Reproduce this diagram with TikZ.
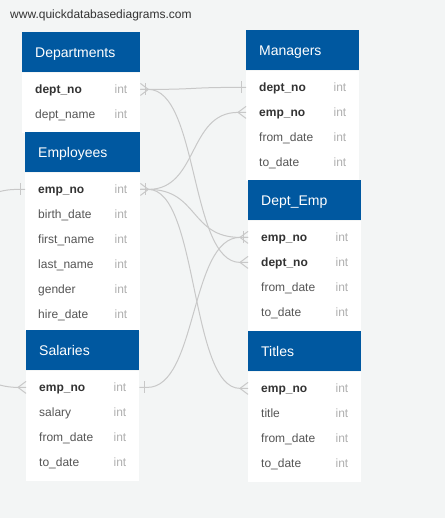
\documentclass[tikz,border=0pt]{standalone}
\usepackage{fontspec}
\setmainfont{Liberation Sans}
\usetikzlibrary{calc}

\definecolor{bg}{RGB}{243,245,245}
\definecolor{hdr}{RGB}{0,88,160}
\definecolor{pk}{RGB}{51,51,51}
\definecolor{fld}{RGB}{85,85,85}
\definecolor{typ}{RGB}{176,176,176}
\definecolor{wire}{RGB}{200,200,200}
\definecolor{urlc}{RGB}{51,51,51}

% table: id, left, top, width, body height, title
\newcommand{\ertable}[6]{%
  \node[hdrbox, minimum width=#4] (#1-head) at (#2,#3) {};
  \node[titletext] (#1-title) at ($(#1-head.west)+(13,5)$) {#6};
  \node[bodybox, minimum width=#4, minimum height=#5] (#1-body) at (#1-head.south west) {};
}
% row: table id, key, index, label, style
\newcommand{\errow}[5]{%
  \coordinate (#1-#2) at ($(#1-body.north west)+(0,{17+25*(#3-1)})$);
  \coordinate (#1-#2-r) at (#1-body.east |- #1-#2);
  \node[#5] (#1-#2-name) at ($(#1-#2)+(13,4)$) {#4};
  \node[typetext] (#1-#2-type) at ($(#1-#2-r)+(-26,4)$) {int};
}
% relationship line from a right-hand field end to a left-hand field end
\newcommand{\erlink}[2]{%
  \draw[wire] (#1) -- ++(8,0) .. controls +(50,0) and ($(#2)+(-58,0)$) .. ($(#2)+(-8,0)$) -- (#2);
}

\begin{document}
\begin{tikzpicture}[x=1pt,y=-1pt,
  wire/.style={draw=wire, line width=1pt},
  hdrbox/.style={fill=hdr, draw=none, anchor=north west, inner sep=0pt, minimum height=40pt},
  bodybox/.style={fill=white, draw=none, anchor=north west, inner sep=0pt},
  titletext/.style={anchor=base west, inner sep=0pt, text=white, font=\fontsize{14}{16}\selectfont},
  pkf/.style={anchor=base west, inner sep=0pt, text=pk, font=\fontsize{12}{14}\selectfont\bfseries},
  fld/.style={anchor=base west, inner sep=0pt, text=fld, font=\fontsize{12}{14}\selectfont},
  typetext/.style={anchor=base west, inner sep=0pt, text=typ, font=\fontsize{12}{14}\selectfont},
  urltext/.style={anchor=base west, inner sep=0pt, text=urlc, font=\fontsize{12}{14}\selectfont},
  crow/.pic={\draw[wire] (0,-6) -- (8,0) -- (0,6);},
  onebar/.pic={\draw[wire] (5,-6) -- (5,6);},
]
\clip (0,0) rectangle (445,518);
\fill[bg] (0,0) rectangle (445,518);

\node[urltext] (url) at (10,19) {www.quickdatabasediagrams.com};

% tables
\ertable{dept}{22}{32}{118}{60}{Departments}
\errow{dept}{deptno}{1}{dept\_no}{pkf}
\errow{dept}{deptname}{2}{dept\_name}{fld}

\ertable{emp}{25}{132}{115}{158}{Employees}
\errow{emp}{empno}{1}{emp\_no}{pkf}
\errow{emp}{birth}{2}{birth\_date}{fld}
\errow{emp}{first}{3}{first\_name}{fld}
\errow{emp}{last}{4}{last\_name}{fld}
\errow{emp}{gender}{5}{gender}{fld}
\errow{emp}{hire}{6}{hire\_date}{fld}

\ertable{sal}{26}{330}{113}{110}{Salaries}
\errow{sal}{empno}{1}{emp\_no}{pkf}
\errow{sal}{salary}{2}{salary}{fld}
\errow{sal}{from}{3}{from\_date}{fld}
\errow{sal}{to}{4}{to\_date}{fld}

\ertable{mgr}{246}{30}{113}{110}{Managers}
\errow{mgr}{deptno}{1}{dept\_no}{pkf}
\errow{mgr}{empno}{2}{emp\_no}{pkf}
\errow{mgr}{from}{3}{from\_date}{fld}
\errow{mgr}{to}{4}{to\_date}{fld}

\ertable{de}{248}{180}{113}{110}{Dept\_Emp}
\errow{de}{empno}{1}{emp\_no}{pkf}
\errow{de}{deptno}{2}{dept\_no}{pkf}
\errow{de}{from}{3}{from\_date}{fld}
\errow{de}{to}{4}{to\_date}{fld}

\ertable{ttl}{248}{331}{113}{110}{Titles}
\errow{ttl}{empno}{1}{emp\_no}{pkf}
\errow{ttl}{title}{2}{title}{fld}
\errow{ttl}{from}{3}{from\_date}{fld}
\errow{ttl}{to}{4}{to\_date}{fld}

% relationships
\erlink{dept-deptno-r}{mgr-deptno}
\erlink{dept-deptno-r}{de-deptno}
\erlink{emp-empno-r}{mgr-empno}
\erlink{emp-empno-r}{de-empno}
\erlink{emp-empno-r}{ttl-empno}
\erlink{sal-empno-r}{de-empno}
\draw[wire] (emp-empno) -- ++(-8,0) .. controls +(-100,0) and ($(sal-empno)+(-108,0)$) .. ($(sal-empno)+(-8,0)$) -- (sal-empno);

% line end symbols
\pic at (dept-deptno-r) {crow};
\pic at (dept-deptno-r) {onebar};
\pic at (emp-empno-r) {crow};
\pic at (emp-empno-r) {onebar};
\pic at (sal-empno-r) {onebar};
\pic[xscale=-1] at (emp-empno) {onebar};
\pic[xscale=-1] at (sal-empno) {crow};
\pic[xscale=-1] at (mgr-deptno) {onebar};
\pic[xscale=-1] at (mgr-empno) {crow};
\pic[xscale=-1] at (de-empno) {crow};
\pic[xscale=-1] at (de-empno) {onebar};
\pic[xscale=-1] at (de-deptno) {crow};
\pic[xscale=-1] at (ttl-empno) {crow};
\end{tikzpicture}
\end{document}
